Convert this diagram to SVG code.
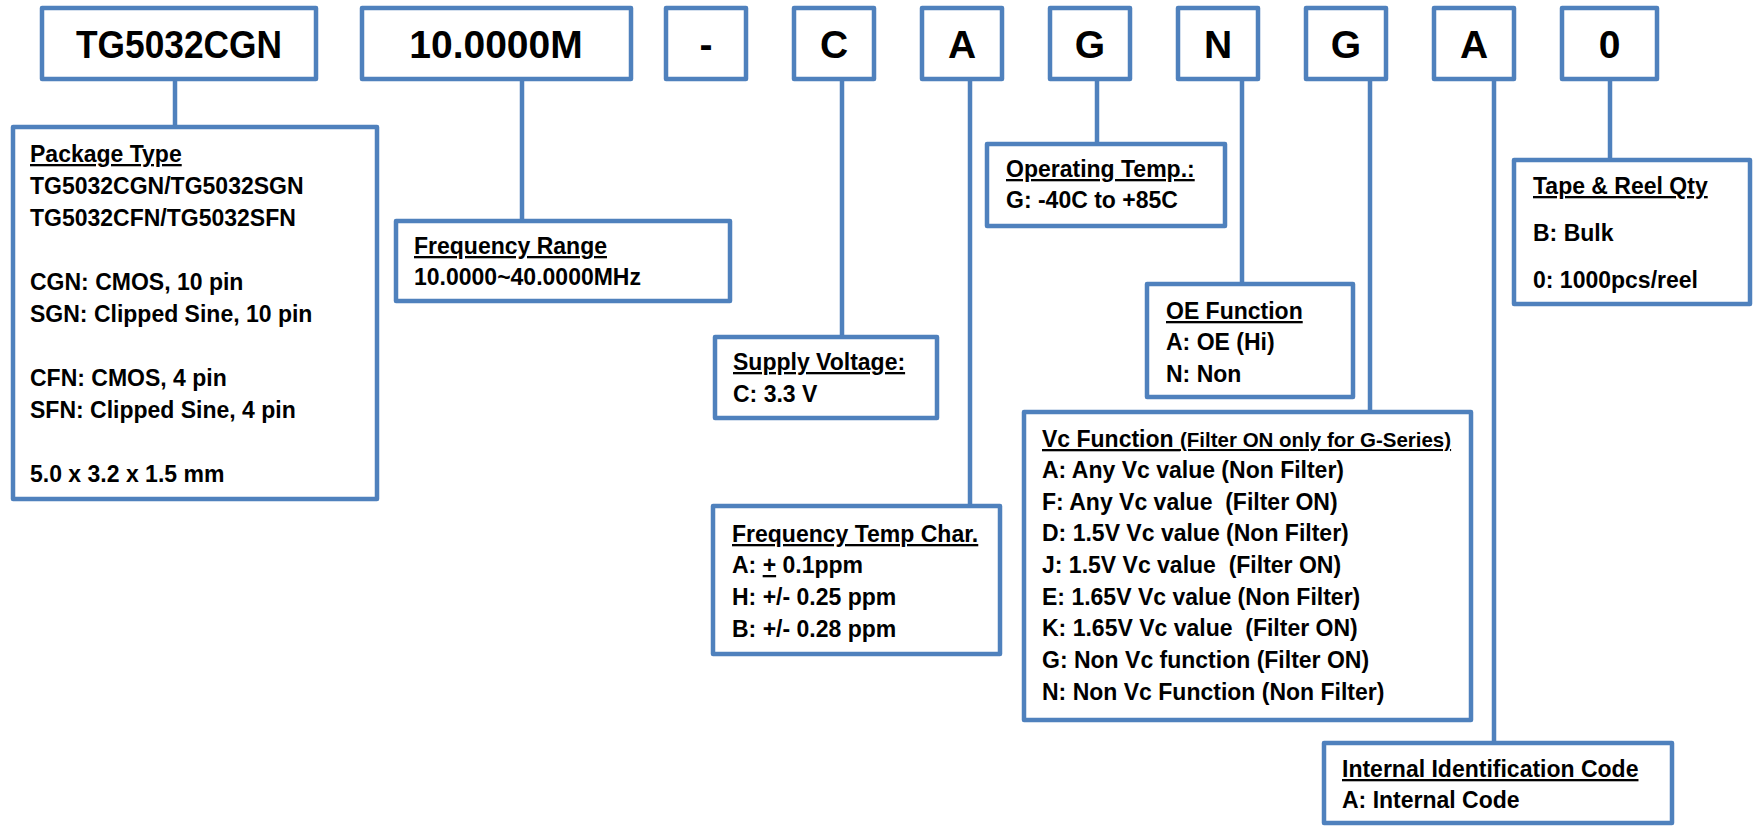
<svg xmlns="http://www.w3.org/2000/svg" width="1754" height="826" viewBox="0 0 1754 826">
<style>
.b{fill:#fff;stroke:#4F81BD;stroke-width:4.5;stroke-linejoin:round}
.c{stroke:#4F81BD;stroke-width:4.5;fill:none}
text{font-family:"Liberation Sans",Arial,sans-serif;font-weight:bold;fill:#000;white-space:pre}
.t{font-size:23px}
.k{font-size:39px;text-anchor:middle}
.u{text-decoration:underline}
.s{font-size:20.5px}
</style>
<rect width="1754" height="826" fill="#fff"/>
<g id="connectors">
<line class="c" x1="175" y1="79" x2="175" y2="127"/>
<line class="c" x1="522" y1="79" x2="522" y2="221"/>
<line class="c" x1="842" y1="79" x2="842" y2="337"/>
<line class="c" x1="970" y1="79" x2="970" y2="506"/>
<line class="c" x1="1097" y1="79" x2="1097" y2="158"/>
<line class="c" x1="1242" y1="79" x2="1242" y2="284"/>
<line class="c" x1="1370" y1="79" x2="1370" y2="412"/>
<line class="c" x1="1494" y1="79" x2="1494" y2="743"/>
<line class="c" x1="1610" y1="79" x2="1610" y2="160"/>
</g>
<g id="code-tg"><rect class="b" x="42" y="8" width="274" height="71"/><text class="k" x="179" y="58" textLength="206" lengthAdjust="spacingAndGlyphs">TG5032CGN</text></g>
<g id="code-freq"><rect class="b" x="362" y="8" width="269" height="71"/><text class="k" x="496" y="58">10.0000M</text></g>
<g id="code-dash"><rect class="b" x="666" y="8" width="80" height="71"/><text class="k" x="706" y="58">-</text></g>
<g id="code-c"><rect class="b" x="794" y="8" width="80" height="71"/><text class="k" x="834" y="58">C</text></g>
<g id="code-a1"><rect class="b" x="922" y="8" width="80" height="71"/><text class="k" x="962" y="58">A</text></g>
<g id="code-g1"><rect class="b" x="1050" y="8" width="80" height="71"/><text class="k" x="1090" y="58">G</text></g>
<g id="code-n"><rect class="b" x="1178" y="8" width="80" height="71"/><text class="k" x="1218" y="58">N</text></g>
<g id="code-g2"><rect class="b" x="1306" y="8" width="80" height="71"/><text class="k" x="1346" y="58">G</text></g>
<g id="code-a2"><rect class="b" x="1434" y="8" width="80" height="71"/><text class="k" x="1474" y="58">A</text></g>
<g id="code-0"><rect class="b" x="1562" y="8" width="95" height="71"/><text class="k" x="1609.5" y="58">0</text></g>

<g id="package-type"><rect class="b" x="13" y="127" width="364" height="372"/>
<text class="t" x="30" y="162"><tspan class="u">Package Type</tspan></text>
<text class="t" x="30" y="194">TG5032CGN/TG5032SGN</text>
<text class="t" x="30" y="226">TG5032CFN/TG5032SFN</text>
<text class="t" x="30" y="290">CGN: CMOS, 10 pin</text>
<text class="t" x="30" y="322">SGN: Clipped Sine, 10 pin</text>
<text class="t" x="30" y="386">CFN: CMOS, 4 pin</text>
<text class="t" x="30" y="418">SFN: Clipped Sine, 4 pin</text>
<text class="t" x="30" y="482">5.0 x 3.2 x 1.5 mm</text>
</g>
<g id="frequency-range"><rect class="b" x="396" y="221" width="334" height="80"/>
<text class="t" x="414" y="254"><tspan class="u">Frequency Range</tspan></text>
<text class="t" x="414" y="285">10.0000~40.0000MHz</text>
</g>
<g id="supply-voltage"><rect class="b" x="715" y="337" width="222" height="81"/>
<text class="t" x="733" y="370"><tspan class="u">Supply Voltage:</tspan></text>
<text class="t" x="733" y="402">C: 3.3 V</text>
</g>
<g id="freq-temp-char"><rect class="b" x="713" y="506" width="287" height="148"/>
<text class="t" x="732" y="542"><tspan class="u">Frequency Temp Char.</tspan></text>
<text class="t" x="732" y="573">A: <tspan class="u">+</tspan> 0.1ppm</text>
<text class="t" x="732" y="605">H: +/- 0.25 ppm</text>
<text class="t" x="732" y="637">B: +/- 0.28 ppm</text>
</g>
<g id="operating-temp"><rect class="b" x="987" y="144" width="238" height="82"/>
<text class="t" x="1006" y="177"><tspan class="u">Operating Temp.:</tspan></text>
<text class="t" x="1006" y="208">G: -40C to +85C</text>
</g>
<g id="oe-function"><rect class="b" x="1147" y="284" width="206" height="113"/>
<text class="t" x="1166" y="319"><tspan class="u">OE Function</tspan></text>
<text class="t" x="1166" y="350">A: OE (Hi)</text>
<text class="t" x="1166" y="382">N: Non</text>
</g>
<g id="vc-function"><rect class="b" x="1024" y="412" width="447" height="308"/>
<text class="t" x="1042" y="447"><tspan class="u">Vc Function </tspan><tspan class="u s">(Filter ON only for G-Series)</tspan></text>
<text class="t" x="1042" y="478">A: Any Vc value (Non Filter)</text>
<text class="t" x="1042" y="510">F: Any Vc value  (Filter ON)</text>
<text class="t" x="1042" y="541">D: 1.5V Vc value (Non Filter)</text>
<text class="t" x="1042" y="573">J: 1.5V Vc value  (Filter ON)</text>
<text class="t" x="1042" y="605">E: 1.65V Vc value (Non Filter)</text>
<text class="t" x="1042" y="636">K: 1.65V Vc value  (Filter ON)</text>
<text class="t" x="1042" y="668">G: Non Vc function (Filter ON)</text>
<text class="t" x="1042" y="700">N: Non Vc Function (Non Filter)</text>
</g>
<g id="tape-reel"><rect class="b" x="1514" y="160" width="236" height="144"/>
<text class="t" x="1533" y="194"><tspan class="u">Tape &amp; Reel Qty</tspan></text>
<text class="t" x="1533" y="241">B: Bulk</text>
<text class="t" x="1533" y="288">0: 1000pcs/reel</text>
</g>
<g id="internal-id"><rect class="b" x="1324" y="743" width="348" height="80"/>
<text class="t" x="1342" y="777"><tspan class="u">Internal Identification Code</tspan></text>
<text class="t" x="1342" y="808">A: Internal Code</text>
</g>
</svg>
